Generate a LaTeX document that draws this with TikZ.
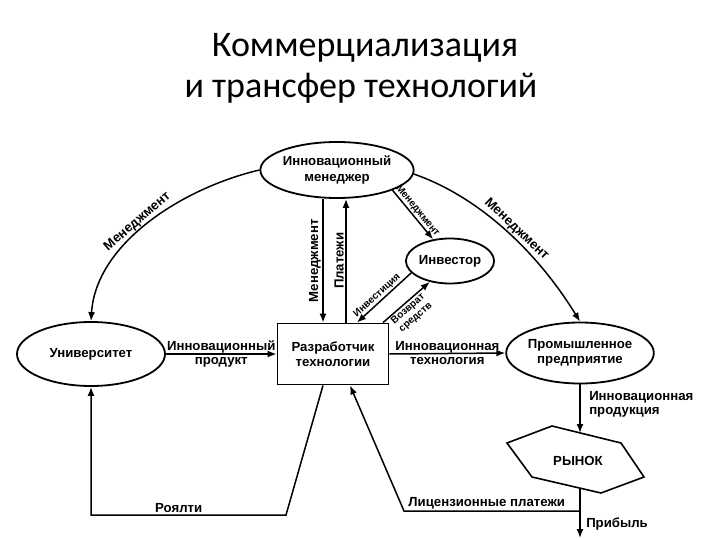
\documentclass[tikz,border=0pt]{standalone}
\usepackage{fontspec}
\setmainfont{Liberation Sans}
\newfontfamily\titlefont{Carlito}
\usetikzlibrary{shapes.geometric,arrows.meta}

\tikzset{
  actor/.style={draw, ellipse, line width=1.8pt, inner sep=0pt, align=center,
    font=\bfseries\fontsize{13.2}{15.5}\selectfont},
  devbox/.style={draw, rectangle, line width=1.8pt, inner sep=0pt, align=center,
    minimum width=111pt, minimum height=61pt, font=\bfseries\fontsize{13.2}{15.5}\selectfont},
  link/.style={line width=1.5pt},
  lbl/.style={font=\bfseries\fontsize{13.2}{14}\selectfont, inner sep=1.5pt},
  smalllbl/.style={font=\bfseries\fontsize{10}{11.5}\selectfont, inner sep=1pt},
  headline/.style={font=\titlefont\fontsize{36}{42}\selectfont, anchor=base}
}

\begin{document}
\begin{tikzpicture}[x=1pt, y=-1pt, >={Latex[length=9pt,width=7pt]}]
	\useasboundingbox (0,0) rectangle (720,540);

	% title
	\node[headline] (title1) at (365,57) {Коммерциализация};
	\node[headline] (title2) at (361,98) {и трансфер технологий};

	% participants
	\node[actor, minimum width=148pt, minimum height=56pt] (mgr) at (337,170) {Инновационный\\менеджер};
	\node[actor, minimum width=148pt, minimum height=64pt] (uni) at (91,354) {Университет};
	\node[devbox] (dev) at (333,354) {Разработчик\\технологии};
	\node[actor, minimum width=86pt, minimum height=45pt] (inv) at (450,261) {Инвестор};
	\node[actor, minimum width=146pt, minimum height=61pt] (ent) at (580,353) {Промышленное\\предприятие};

	% market
	\draw[line width=1.6pt] (507,443) -- (552,426) -- (621,443) -- (644,477) -- (601,493)
		-- (532,477) -- cycle;
	\node[font=\bfseries\fontsize{13.2}{15}\selectfont] (mkt) at (578,461) {РЫНОК};
	\coordinate (mtop) at (580,433);
	\coordinate (mbot) at (580,488);
	\coordinate (profit) at (580,538);

	% management
	\draw[link, <-] (uni.north) .. controls (96,243) and (183,188) ..
		node[lbl, sloped, above, pos=0.47] {Менеджмент} (mgr.west);
	\draw[link, ->] (mgr.-3) .. controls (480,197) and (538,253) ..
		node[lbl, sloped, above, pos=0.53] {Менеджмент} (ent.north);
	\coordinate (tl) at ([xshift=-10pt]dev.north);
	\coordinate (tr) at ([xshift=13pt]dev.north);
	\draw[link, <-] (tl) -- node[lbl, sloped, above] {Менеджмент} (mgr.south -| tl);
	\draw[link, ->] (tr) -- node[lbl, sloped, above] {Платежи} (mgr.south -| tr);
	\draw[link, ->] (mgr.-20) -- node[smalllbl, sloped, above] {Менеджмент} (inv.128);

	% investor
	\draw[link, <-] ([xshift=24pt]dev.north) -- node[smalllbl, sloped, above, pos=0.45] {Инвестиция} (inv.197);
	\draw[link, ->] ([xshift=50pt]dev.north) -- node[smalllbl, sloped, below, align=center, pos=0.45]
		{Возврат\\средств} (inv.226);

	% technology flow
	\draw[link, ->] (uni.east) -- node[lbl, align=center] {Инновационный\\продукт} (dev.west);
	\draw[link, ->] (dev.east) -- node[lbl, align=center] {Инновационная\\технология} (ent.west);
	\draw[link, ->] (ent.south) -- node[lbl, right, align=left, pos=0.4, xshift=7pt]
		{Инновационная\\продукция} (mtop);
	\draw[link, ->] (mbot) -- node[lbl, right, pos=0.72, xshift=4pt] {Прибыль} (profit);

	% payments back
	\coordinate (lic) at (580,511);
	\coordinate (licbend) at (404,511);
	\draw[link, ->] (lic) -- node[lbl, above, pos=0.53] {Лицензионные платежи} (licbend)
		-- ([xshift=17pt]dev.south);
	\coordinate (roybend) at (286,515);
	\draw[link, ->] ([xshift=-10pt]dev.south) -- (roybend)
		-- node[lbl, above, pos=0.55] {Роялти} (roybend -| uni.south) -- (uni.south);
\end{tikzpicture}
\end{document}
